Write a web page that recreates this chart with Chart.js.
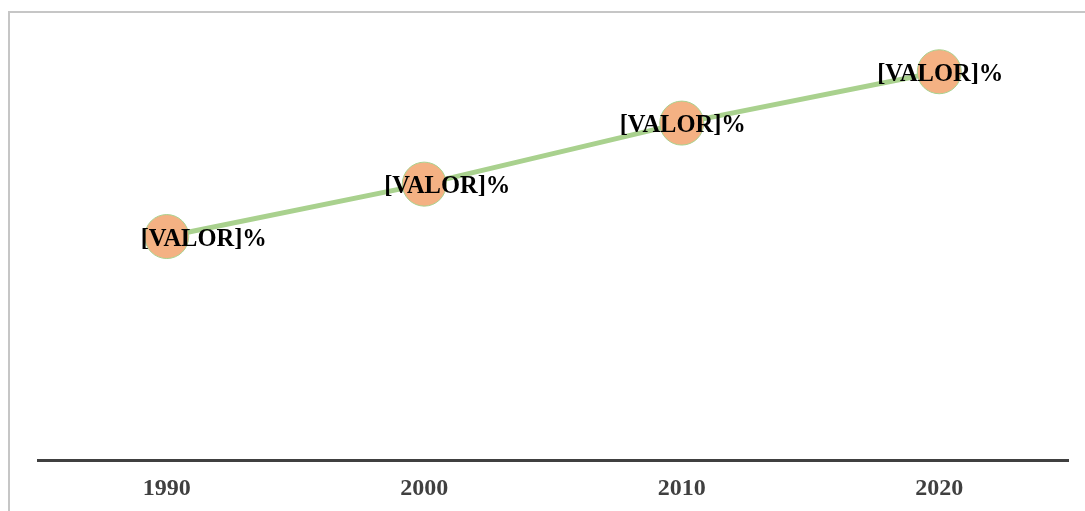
<!DOCTYPE html>
<html>
<head>
<meta charset="utf-8">
<script src="https://cdn.jsdelivr.net/npm/chart.js@4/dist/chart.umd.min.js"></script>
<style>
  html, body { margin: 0; padding: 0; background: #fff; overflow: hidden; }
  #wrap { position: relative; width: 1085px; height: 511px; overflow: hidden; }
  canvas { display: block; }
</style>
</head>
<body>
<div id="wrap"><canvas id="grafico" width="1085" height="525"></canvas></div>
<script>
const anos = ['1990', '2000', '2010', '2020'];
const valores = [41.4, 51.1, 62.4, 71.9];
const rotulos = ['[VALOR]%', '[VALOR]%', '[VALOR]%', '[VALOR]%'];

// frame around the chart, only top and left edges show in the picture
const moldura = {
  id: 'moldura',
  beforeDraw(chart) {
    const ctx = chart.ctx;
    ctx.save();
    ctx.strokeStyle = '#c6c6c6';
    ctx.lineWidth = 2;
    ctx.strokeRect(9, 12, 1200, 700);
    ctx.restore();
  }
};

// data labels, shifted a little like in the original
const deslocX = [37, 23, 1, 1];
const rotulosPlugin = {
  id: 'rotulos',
  afterDatasetsDraw(chart) {
    const ctx = chart.ctx;
    const meta = chart.getDatasetMeta(0);
    ctx.save();
    ctx.font = 'bold 24.5px "Liberation Serif", "Times New Roman", serif';
    ctx.fillStyle = '#000';
    ctx.textAlign = 'center';
    ctx.textBaseline = 'middle';
    meta.data.forEach((pt, i) => {
      ctx.fillText(rotulos[i], pt.x + deslocX[i], pt.y + 3);
    });
    ctx.restore();
  }
};

const ctx = document.getElementById('grafico').getContext('2d');
const grafico = new Chart(ctx, {
  type: 'line',
  data: {
    labels: anos,
    datasets: [{
      data: valores,
      borderColor: '#a9d18e',
      borderWidth: 5,
      pointRadius: 22,
      pointHoverRadius: 22,
      pointBackgroundColor: '#f4b183',
      pointBorderColor: '#a9d18e',
      pointBorderWidth: 1,
      tension: 0
    }]
  },
  options: {
    responsive: false,
    animation: false,
    layout: { autoPadding: false, padding: { left: 38, right: 17, top: 28, bottom: 8 } },
    plugins: {
      legend: { display: false },
      tooltip: { enabled: false }
    },
    scales: {
      x: {
        offset: true,
        grid: { display: false, drawTicks: false },
        border: { display: true, color: '#404040', width: 3 },
        ticks: {
          color: '#404040',
          padding: 14,
          font: { family: '"Liberation Serif", "Times New Roman", serif', size: 24, weight: 'bold' }
        }
      },
      y: {
        display: false,
        min: 0,
        max: 80
      }
    }
  },
  plugins: [moldura, rotulosPlugin]
});
</script>
</body>
</html>
